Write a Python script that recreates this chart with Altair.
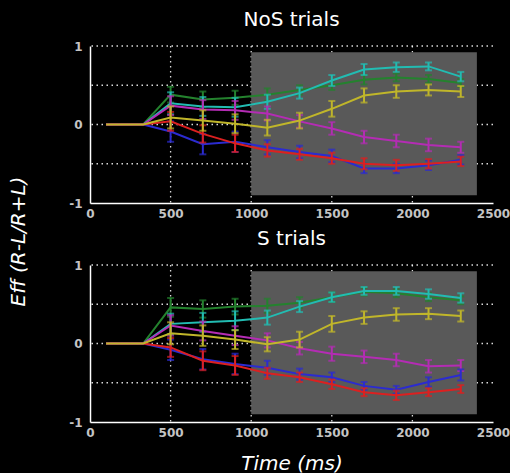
import altair as alt
import pandas as pd

# ---- data ----
times = [100, 330, 500, 700, 900, 1100, 1300, 1500, 1700, 1900, 2100, 2300]

series_names = ["green", "cyan", "magenta", "blue", "red", "yellow"]
series_colors = ["#24822e", "#22bcb2", "#b42cb4", "#2b2bd0", "#dc2020", "#c0b62a"]

# NoS trials
nos_green = [0, 0, 0.38, 0.32, 0.34, 0.38, 0.44, 0.50, 0.57, 0.60, 0.58, 0.53]
nos_cyan = [0, 0, 0.27, 0.23, 0.22, 0.29, 0.40, 0.56, 0.70, 0.73, 0.74, 0.61]
nos_magenta = [0, 0, 0.24, 0.19, 0.18, 0.14, 0.04, -0.05, -0.16, -0.21, -0.26, -0.29]
nos_blue = [0, 0, -0.09, -0.25, -0.22, -0.29, -0.35, -0.40, -0.56, -0.56, -0.52, -0.45]
nos_red = [0, 0, 0.04, -0.12, -0.24, -0.33, -0.38, -0.43, -0.50, -0.52, -0.50, -0.47]
nos_yellow = [0, 0, 0.09, 0.05, 0.01, -0.04, 0.05, 0.20, 0.37, 0.42, 0.44, 0.42]

nos_green_err = [0, 0, 0.10, 0.10, 0.09, 0.08, 0.06, 0.06, 0.06, 0.05, 0.05, 0.05]
nos_cyan_err = [0, 0, 0.14, 0.12, 0.12, 0.09, 0.07, 0.07, 0.07, 0.06, 0.05, 0.06]
nos_magenta_err = [0, 0, 0.12, 0.12, 0.12, 0.09, 0.08, 0.08, 0.08, 0.08, 0.08, 0.07]
nos_blue_err = [0, 0, 0.13, 0.13, 0.13, 0.09, 0.08, 0.08, 0.06, 0.06, 0.06, 0.06]
nos_red_err = [0, 0, 0.12, 0.11, 0.11, 0.08, 0.07, 0.07, 0.07, 0.07, 0.06, 0.06]
nos_yellow_err = [0, 0, 0.14, 0.13, 0.12, 0.10, 0.10, 0.10, 0.09, 0.08, 0.07, 0.07]

# S trials
s_green = [0, 0, 0.46, 0.44, 0.47, 0.48, 0.52, 0.59, 0.66, 0.64, 0.59, 0.55]
s_cyan = [0, 0, 0.25, 0.27, 0.29, 0.33, 0.47, 0.59, 0.67, 0.67, 0.63, 0.58]
s_magenta = [0, 0, 0.23, 0.16, 0.10, 0.04, -0.06, -0.13, -0.17, -0.21, -0.29, -0.28]
s_blue = [0, 0, -0.08, -0.20, -0.26, -0.31, -0.39, -0.43, -0.54, -0.59, -0.49, -0.40]
s_red = [0, 0, -0.05, -0.22, -0.28, -0.38, -0.43, -0.52, -0.62, -0.66, -0.62, -0.58]
s_yellow = [0, 0, 0.13, 0.10, 0.05, -0.01, 0.05, 0.25, 0.33, 0.37, 0.38, 0.35]

s_green_err = [0, 0, 0.12, 0.11, 0.10, 0.09, 0.07, 0.06, 0.05, 0.05, 0.05, 0.05]
s_cyan_err = [0, 0, 0.13, 0.12, 0.12, 0.09, 0.07, 0.06, 0.05, 0.05, 0.06, 0.06]
s_magenta_err = [0, 0, 0.13, 0.12, 0.12, 0.09, 0.08, 0.09, 0.08, 0.08, 0.08, 0.07]
s_blue_err = [0, 0, 0.13, 0.13, 0.13, 0.09, 0.07, 0.06, 0.05, 0.05, 0.06, 0.07]
s_red_err = [0, 0, 0.12, 0.12, 0.12, 0.07, 0.06, 0.06, 0.05, 0.06, 0.05, 0.05]
s_yellow_err = [0, 0, 0.14, 0.13, 0.12, 0.09, 0.10, 0.10, 0.08, 0.08, 0.07, 0.07]

shade_x = [1000, 2400]
shade_y = [-0.9, 0.92]
grid_x = [500, 1000, 1500, 2000]
grid_y = [-0.5, 0, 0.5, 1]

x_ticks = [0, 500, 1000, 1500, 2000, 2500]
y_ticks = [-1, -0.5, 0, 0.5, 1]

panels = {
    "NoS trials": (
        [nos_green, nos_cyan, nos_magenta, nos_blue, nos_red, nos_yellow],
        [nos_green_err, nos_cyan_err, nos_magenta_err, nos_blue_err, nos_red_err, nos_yellow_err],
    ),
    "S trials": (
        [s_green, s_cyan, s_magenta, s_blue, s_red, s_yellow],
        [s_green_err, s_cyan_err, s_magenta_err, s_blue_err, s_red_err, s_yellow_err],
    ),
}

FONT = "DejaVu Sans"
W, H = 403, 157


def make_panel(title, values, errs, show_x_title):
    rows = []
    for name, vals, ers in zip(series_names, values, errs):
        for t, v, e in zip(times, vals, ers):
            rows.append({"series": name, "time": t, "value": v, "lo": v - e, "hi": v + e, "err": e})
    df = pd.DataFrame(rows)

    xscale = alt.Scale(domain=[0, 2500], nice=False)
    yscale = alt.Scale(domain=[-1, 1], nice=False)
    xaxis = alt.Axis(
        values=x_ticks, grid=False, ticks=False, labelPadding=5, format="d",
        title="Time  (ms)" if show_x_title else None,
        titleFontStyle="italic", titleFontSize=20, titleFontWeight="normal",
        titleColor="white", titlePadding=15, labelFlush=False,
    )
    yaxis = alt.Axis(
        values=y_ticks, grid=False, ticks=False, labelPadding=8, title=None,
        format="~g", labelExpr="replace(datum.label, '\u2212', '-')",
    )

    shade = alt.Chart(pd.DataFrame({"x0": [shade_x[0]], "x1": [shade_x[1]],
                                    "y0": [shade_y[0]], "y1": [shade_y[1]]})).mark_rect(
        color="#595959"
    ).encode(
        x=alt.X("x0:Q", scale=xscale, axis=xaxis),
        x2="x1:Q",
        y=alt.Y("y0:Q", scale=yscale, axis=yaxis),
        y2="y1:Q",
    )

    gx = alt.Chart(pd.DataFrame({"g": grid_x})).mark_rule(
        color="white", strokeDash=[1.5, 3.5], strokeWidth=1.3, opacity=0.85
    ).encode(x=alt.X("g:Q", scale=xscale))
    gy = alt.Chart(pd.DataFrame({"g": grid_y})).mark_rule(
        color="white", strokeDash=[1.5, 3.5], strokeWidth=1.3, opacity=0.85
    ).encode(y=alt.Y("g:Q", scale=yscale))

    layers = [gx, gy, shade]
    for name, col in zip(series_names, series_colors):
        sub = alt.Chart(df).transform_filter(alt.datum.series == name)
        line = sub.mark_line(color=col, strokeWidth=2).encode(
            x=alt.X("time:Q", scale=xscale), y=alt.Y("value:Q", scale=yscale)
        )
        eb = sub.transform_filter(alt.datum.err > 0)
        rule = eb.mark_rule(color=col, strokeWidth=2).encode(
            x=alt.X("time:Q", scale=xscale), y=alt.Y("lo:Q", scale=yscale), y2="hi:Q"
        )
        cap_lo = eb.mark_tick(color=col, size=7, thickness=2, orient="horizontal").encode(
            x=alt.X("time:Q", scale=xscale), y=alt.Y("lo:Q", scale=yscale)
        )
        cap_hi = eb.mark_tick(color=col, size=7, thickness=2, orient="horizontal").encode(
            x=alt.X("time:Q", scale=xscale), y=alt.Y("hi:Q", scale=yscale)
        )
        layers += [line, rule, cap_lo, cap_hi]

    return alt.layer(*layers).properties(
        width=W, height=H,
        title=alt.TitleParams(title, color="white", fontSize=20, font=FONT,
                              fontWeight="normal", offset=10, anchor="middle"),
    )


top = make_panel("NoS trials", *panels["NoS trials"], show_x_title=False)
bottom = make_panel("S trials", *panels["S trials"], show_x_title=True)

chart = alt.vconcat(top, bottom, spacing=10).properties(
    title=alt.TitleParams("Eff (R-L/R+L)", orient="left", anchor="middle",
                          fontStyle="italic", fontSize=20, color="white",
                          font=FONT, fontWeight="normal", offset=40),
    padding={"left": 8, "top": 10, "right": 0, "bottom": 0},
).configure(background="black", font=FONT).configure_view(stroke=None).configure_axis(
    domainColor="white", domainWidth=1.5, labelColor="#c4c4c4", labelFont=FONT,
    labelFontSize=12, labelFontWeight="bold", titleFont=FONT,
)

chart.save("out.html", embed_options={"renderer": "svg", "actions": False})
